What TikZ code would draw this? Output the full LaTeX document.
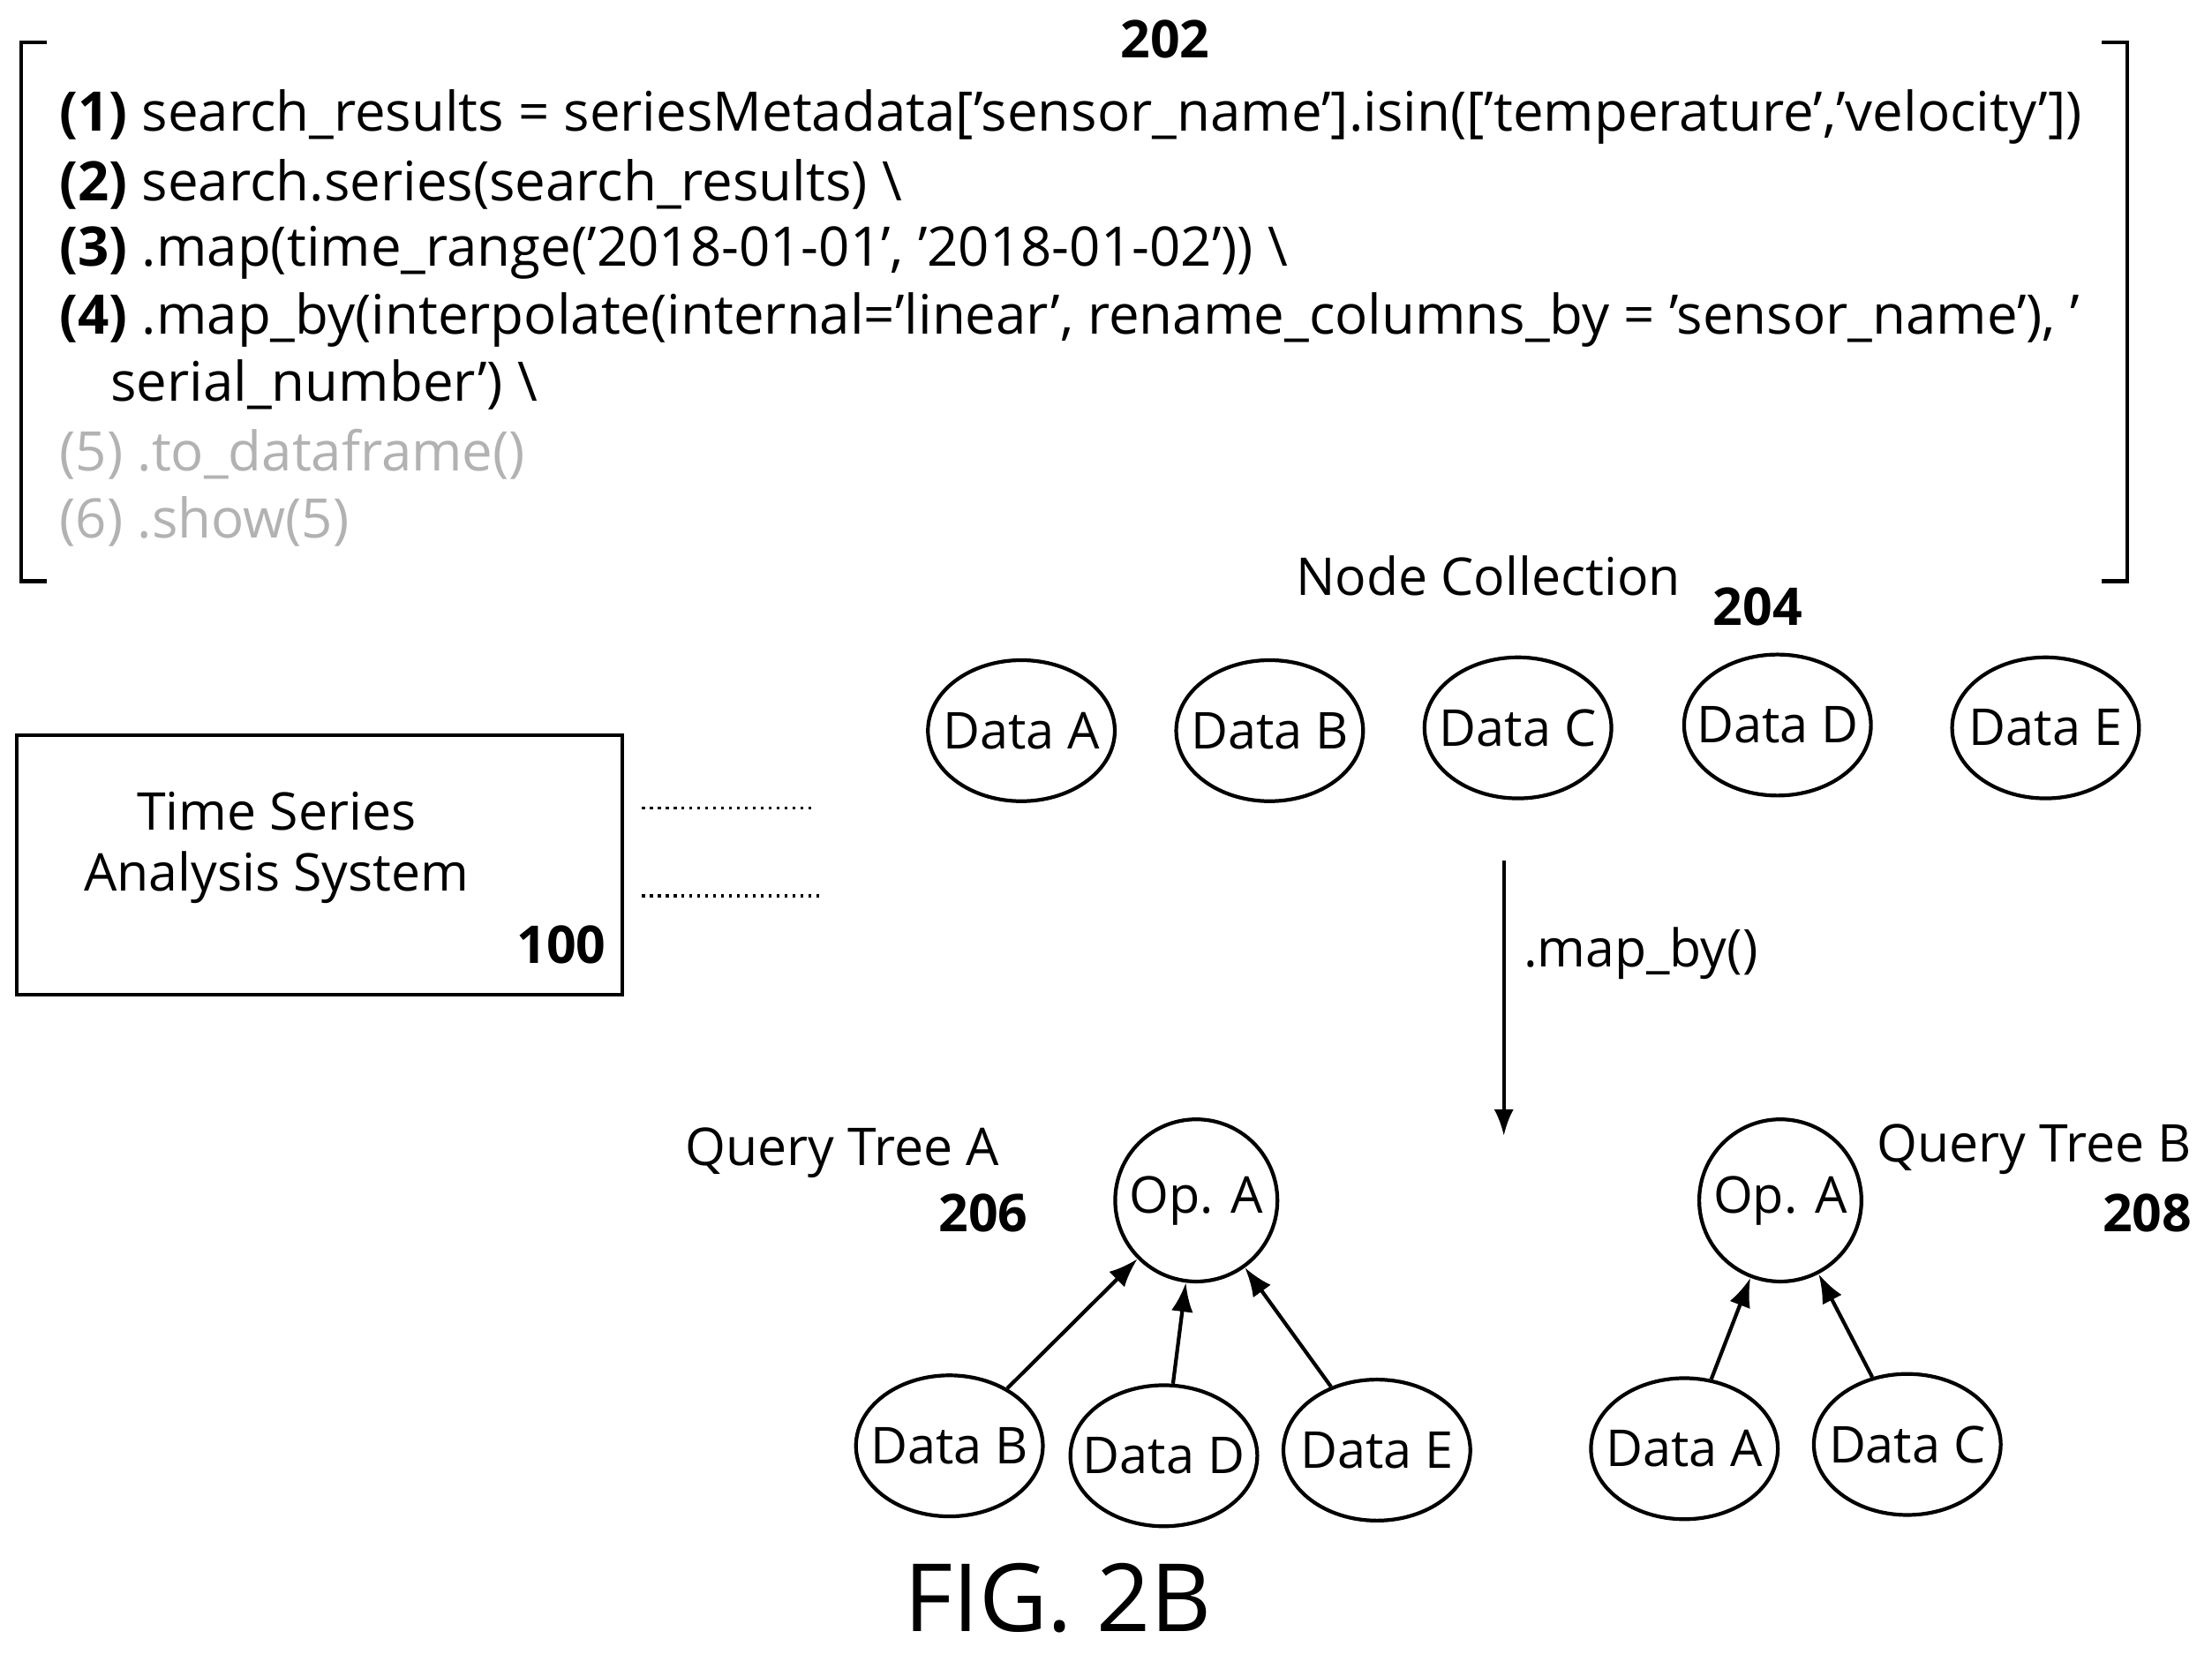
\documentclass[tikz,border=0pt]{standalone}
\usepackage{fontspec}
\setmainfont{Open Sans}
\usetikzlibrary{shapes, positioning, arrows.meta}
\begin{document}
\begin{tikzpicture}[x=0.02cm,y=-0.02cm,>={Latex[scale=1.2]},
	data/.style={draw, line width=1.5pt, ellipse, minimum width=2.65cm, minimum height=2cm, inner xsep=-0.3cm, inner ysep=0.3cm, font=\fontsize{20.5}{24}\selectfont},
	op/.style={draw, line width=1.5pt, circle, minimum size=2.3cm, inner sep=0pt, font=\fontsize{20.5}{24}\selectfont},
	code/.style={anchor=west, font=\fontsize{22}{24}\selectfont, inner sep=0pt},
	lbl/.style={font=\fontsize{21}{24}\selectfont},
	num/.style={font=\bfseries\fontsize{21}{24}\selectfont}]
	\useasboundingbox (0,0) rectangle (1568,1172);
	
	% brackets
	\draw[line width=1.5pt] (33,30) -- (15,30) -- (15,412) -- (33,412);
	\draw[line width=1.5pt] (1490,30) -- (1508,30) -- (1508,412) -- (1490,412);
	\node[num] (n202) at (826,28) {202};
	
	% code lines
	\node[code] (l1) at (42,83) {\textbf{(1)} search\_results = seriesMetadata['sensor\_name'].isin(['temperature','velocity'])};
	\node[code] (l2) at (42,131) {\textbf{(2)} search.series(search\_results) \textbackslash};
	\node[code] (l3) at (42,179) {\textbf{(3)} .map(time\_range('2018-01-01', '2018-01-02')) \textbackslash};
	\node[code] (l4) at (42,227) {\textbf{(4)} .map\_by(interpolate(internal='linear', rename\_columns\_by = 'sensor\_name'), '};
	\node[code] (l4b) at (78,273) {serial\_number') \textbackslash};
	\node[code, text=gray!60] (l5) at (42,322) {(5) .to\_dataframe()};
	\node[code, text=gray!60] (l6) at (42,370) {(6) .show(5)};
	
	% node collection
	\node[lbl] (coll) at (1055,408) {Node Collection};
	\node[num] (n204) at (1246,430) {204};
	\node[data] (cA) at (724,518) {Data A};
	\node[data] (cB) at (900,518) {Data B};
	\node[data] (cC) at (1076,516) {Data C};
	\node[data] (cD) at (1260,514) {Data D};
	\node[data] (cE) at (1450,516) {Data E};
	
	% system box
	\draw[line width=1.5pt] (12,521) rectangle (441,705);
	\node[lbl] (sys1) at (196,575) {Time Series};
	\node[lbl] (sys2) at (196,622) {Analysis System};
	\node[num] (n100) at (398,670) {100};
	\draw[dotted, line width=1.2pt] (455,573) -- (578,573);
	\draw[dotted, line width=1.2pt] (455,635) -- (582,635);
	
	% map_by arrow
	\coordinate (mtop) at (1066,610);
	\coordinate (mbot) at (1066,805);
	\draw[->, line width=1.3pt] (mtop) -- (mbot);
	\node[lbl] (mapby) at (1163,676) {.map\_by()};
	
	% query tree A
	\node[lbl] (qa) at (597,817) {Query Tree A};
	\node[num] (n206) at (697,860) {206};
	\node[op] (opA) at (848,851) {Op. A};
	\node[data] (aB) at (673,1025) {Data B};
	\node[data] (aD) at (825,1032) {Data D};
	\node[data] (aE) at (976,1028) {Data E};
	\draw[->, line width=1.5pt] (aB) -- (opA);
	\draw[->, line width=1.5pt] (aD) -- (opA);
	\draw[->, line width=1.5pt] (aE) -- (opA);
	
	% query tree B
	\node[lbl] (qb) at (1442,815) {Query Tree B};
	\node[num] (n208) at (1522,860) {208};
	\node[op] (opB) at (1262,851) {Op. A};
	\node[data] (bA) at (1194,1027) {Data A};
	\node[data] (bC) at (1352,1024) {Data C};
	\draw[->, line width=1.5pt] (bA) -- (opB);
	\draw[->, line width=1.5pt] (bC) -- (opB);
	
	\node[font=\fontsize{38}{42}\selectfont] (fig) at (750,1133) {FIG. 2B};
\end{tikzpicture}
\end{document}
